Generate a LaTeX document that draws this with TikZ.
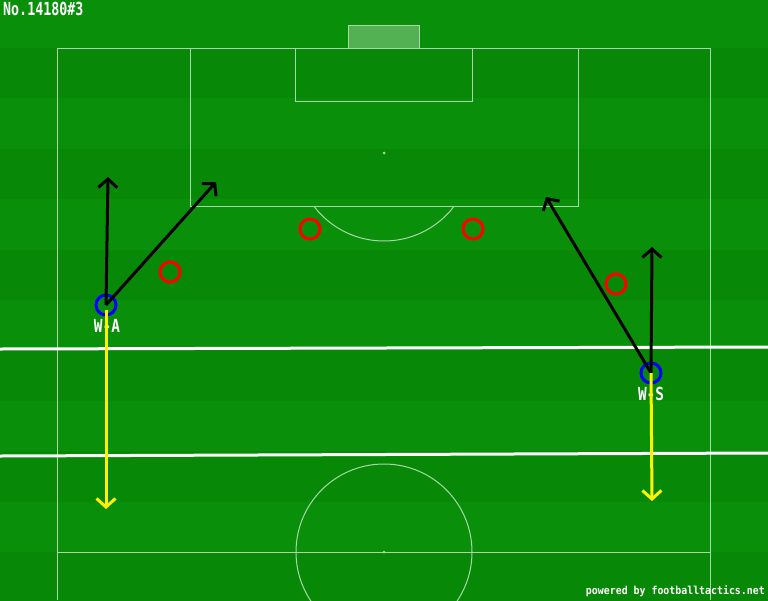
\documentclass[tikz,border=0pt]{standalone}
\usepackage{fontspec}
\newfontfamily\monob{DejaVu Sans Mono Bold}
\usetikzlibrary{arrows.meta}
\definecolor{grassA}{HTML}{0A8F0A}
\definecolor{grassB}{HTML}{078907}
\definecolor{fieldline}{HTML}{A8D8A8}
\tikzset{
  fl/.style={draw=fieldline, line width=1pt},
  thick white/.style={draw=white, line width=3pt},
  player/.style={circle, draw=#1, line width=3pt, minimum size=20pt, inner sep=0pt},
  lbl/.style={text=white, font=\monob\fontsize{18pt}{18pt}\selectfont, inner sep=0pt},
  runarrow/.style={draw=black, line width=3pt, -{Straight Barb[length=8.5pt,width=19pt]}},
  dribble/.style={draw=yellow, line width=3pt, -{Straight Barb[length=8.5pt,width=19pt]}},
}
\begin{document}
\begin{tikzpicture}[x=1pt,y=-1pt]
\useasboundingbox (0,0) rectangle (768,600);
% grass stripes
\foreach \i in {0,...,11} {
  \pgfmathsetmacro\ya{-2.4+\i*50.4}
  \pgfmathsetmacro\yb{\ya+50.4}
  \ifodd\i \fill[grassB] (0,\ya) rectangle (768,\yb); \else \fill[grassA] (0,\ya) rectangle (768,\yb); \fi
}
% goal
\fill[white, opacity=0.3] (348,25) rectangle (419,48);
\draw[fl] (348,48) -- (348,25) -- (419,25) -- (419,48);
% pitch
\draw[fl] (57,600) -- (57,48) -- (710,48) -- (710,600);
\draw[fl] (57,552) -- (710,552);
\draw[fl] (190,48) rectangle (578,206);
\draw[fl] (295,48) rectangle (472,101);
\fill[fieldline] (384,153) circle (1.5pt);
\begin{scope}
  \clip (0,206) rectangle (768,600);
  \draw[fl] (384,153) circle (88pt);
\end{scope}
\draw[fl] (384,552) circle (88pt);
\fill[fieldline] (384,552) circle (1.5pt);
% thick white lines
\draw[thick white] (0,349) -- (768,347);
\draw[thick white] (0,456) -- (768,453);
% opponents
\node[player=red] (r1) at (170,272) {};
\node[player=red] (r2) at (310,229) {};
\node[player=red] (r3) at (473,229) {};
\node[player=red] (r4) at (616,284) {};
% players
\node[player=blue] (wa) at (106,305) {};
\node[player=blue] (ws) at (651,373) {};
\node[lbl] (wal) at (107,326) {\scalebox{0.8}[1]{W-A}};
\node[lbl] (wsl) at (651,394) {\scalebox{0.8}[1]{W-S}};
% targets
\coordinate (a1) at (108,177);
\coordinate (a2) at (216,182);
\coordinate (a3) at (106,509);
\coordinate (s1) at (652,247);
\coordinate (s2) at (546,197);
\coordinate (s3) at (652,501);
\coordinate (as) at (106,310);
\coordinate (ss) at (651,373);
\draw[runarrow] (wa.center) -- (a1);
\draw[runarrow] (wa.center) -- (a2);
\draw[runarrow] (ws.center) -- (s1);
\draw[runarrow] (ws.center) -- (s2);
\draw[dribble] (as) -- (a3);
\draw[dribble] (ss) -- (s3);
% texts
\node[lbl, anchor=north west] (title) at (3,2) {\scalebox{0.74}[1]{No.14180\#3}};
\node[text=white, font=\monob\fontsize{11pt}{11pt}\selectfont, inner sep=0pt, anchor=south east] (credit) at (765,597) {\scalebox{0.9}[1]{powered by footballtactics.net}};
\end{tikzpicture}
\end{document}
